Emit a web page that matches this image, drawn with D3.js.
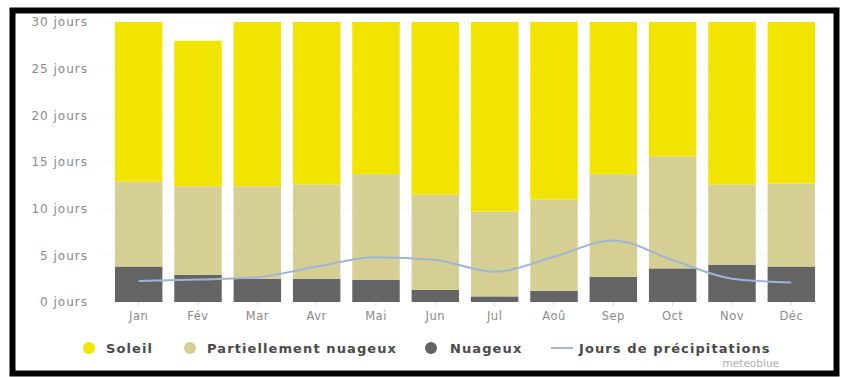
<!DOCTYPE html>
<html><head><meta charset="utf-8">
<script src="https://cdn.jsdelivr.net/npm/d3@7"></script>
<style>body{margin:0;background:#fff}svg{display:block}</style>
</head><body>
<svg id="c" width="841" height="377"></svg>
<script>
const months = ["Jan","Fév","Mar","Avr","Mai","Jun","Jul","Aoû","Sep","Oct","Nov","Déc"];
const cloudy = [3.8,2.9,2.5,2.5,2.4,1.3,0.6,1.2,2.7,3.6,4.0,3.8];
const partly = [9.1,9.5,9.9,10.1,11.3,10.2,9.1,9.8,11.0,12.0,8.6,8.9];
const sunny  = [18.1,15.6,18.6,17.4,17.3,18.5,21.3,20.0,16.3,15.4,17.4,18.3];
const precip = [2.25,2.4,2.65,3.8,4.8,4.5,3.25,4.85,6.6,4.5,2.5,2.1];
const yTicks = [0,5,10,15,20,25,30];
const seriesNames = ["Nuageux","Partiellement nuageux","Soleil"];
const colors = {"Soleil":"#f1e400","Partiellement nuageux":"#d5cf94","Nuageux":"#646464"};
const lineColor = "#9db6d8";

const svg = d3.select("#c");
// frame
svg.append("rect").attr("x",12.5).attr("y",10.5).attr("width",824).attr("height",363)
  .attr("fill","#fff").attr("stroke","#000").attr("stroke-width",6);

const x = d3.scaleBand().domain(months).range([109,821]).paddingInner(0.2).paddingOuter(0.1);
const y = d3.scaleLinear().domain([0,30]).range([302,22]);

svg.append("clipPath").attr("id","pc").append("rect")
  .attr("x",100).attr("y",y(30)).attr("width",730).attr("height",y(0)-y(30));

// grid
svg.append("g").selectAll("line").data(yTicks.slice(1)).join("line")
  .attr("x1",100).attr("x2",828).attr("y1",d=>y(d)).attr("y2",d=>y(d))
  .attr("stroke","#e4e4e4").attr("stroke-dasharray","1,3");

// y axis
const ya = svg.append("g").attr("transform","translate(91,0)")
  .call(d3.axisLeft(y).tickValues(yTicks).tickSize(0).tickFormat(d=>d+" jours"));
ya.select(".domain").remove();
ya.selectAll("text").attr("fill","#8a8a8a").style("font-family","'DejaVu Sans', sans-serif")
  .style("font-size","12px").style("letter-spacing","1px");

// stacks
const data = months.map((m,i)=>({m, "Nuageux":cloudy[i], "Partiellement nuageux":partly[i], "Soleil":sunny[i]}));
const stack = d3.stack().keys(seriesNames)(data);
svg.append("g").attr("clip-path","url(#pc)").selectAll("g").data(stack).join("g")
  .attr("fill",d=>colors[d.key])
  .selectAll("rect").data(d=>d).join("rect")
  .attr("x",d=>x(d.data.m)).attr("width",x.bandwidth())
  .attr("y",d=>y(d[1])).attr("height",d=>y(d[0])-y(d[1]));

// x axis
const xa = svg.append("g").attr("transform","translate(0,"+y(0)+")")
  .call(d3.axisBottom(x).tickSize(4).tickPadding(6));
xa.select(".domain").remove();
xa.selectAll("line").attr("stroke","#ddd");
xa.selectAll("text").attr("fill","#8a8a8a").style("font-family","'DejaVu Sans', sans-serif")
  .style("font-size","11.5px").style("letter-spacing","0.5px");

// precip line
const line = d3.line().x((d,i)=>x(months[i])+x.bandwidth()/2).y(d=>y(d)).curve(d3.curveMonotoneX);
svg.append("path").datum(precip).attr("d",line).attr("fill","none")
  .attr("stroke",lineColor).attr("stroke-width",2);

// legend
const lg = svg.append("g").style("font-family","'DejaVu Sans', sans-serif").style("font-size","13px")
  .style("font-weight","bold").style("letter-spacing","1.1px");
const items = [
  {name:"Soleil", cx:89, tx:106, type:"dot"},
  {name:"Partiellement nuageux", cx:190, tx:207, type:"dot"},
  {name:"Nuageux", cx:431, tx:450, type:"dot"},
  {name:"Jours de précipitations", cx:562, tx:579, type:"line"}
];
items.forEach(it=>{
  if(it.type==="dot"){
    lg.append("circle").attr("cx",it.cx).attr("cy",348).attr("r",6).attr("fill",colors[it.name]);
  } else {
    lg.append("line").attr("x1",it.cx-11).attr("x2",it.cx+11).attr("y1",348).attr("y2",348)
      .attr("stroke",lineColor).attr("stroke-width",2);
  }
  lg.append("text").attr("x",it.tx).attr("y",352.5).attr("fill","#4a4a4a").text(it.name);
});
svg.append("text").attr("x",779).attr("y",367).attr("text-anchor","end")
  .attr("fill","#b0b0b0").style("font-family","'DejaVu Sans', sans-serif").style("font-size","10.5px").text("meteoblue");
</script>
</body></html>
